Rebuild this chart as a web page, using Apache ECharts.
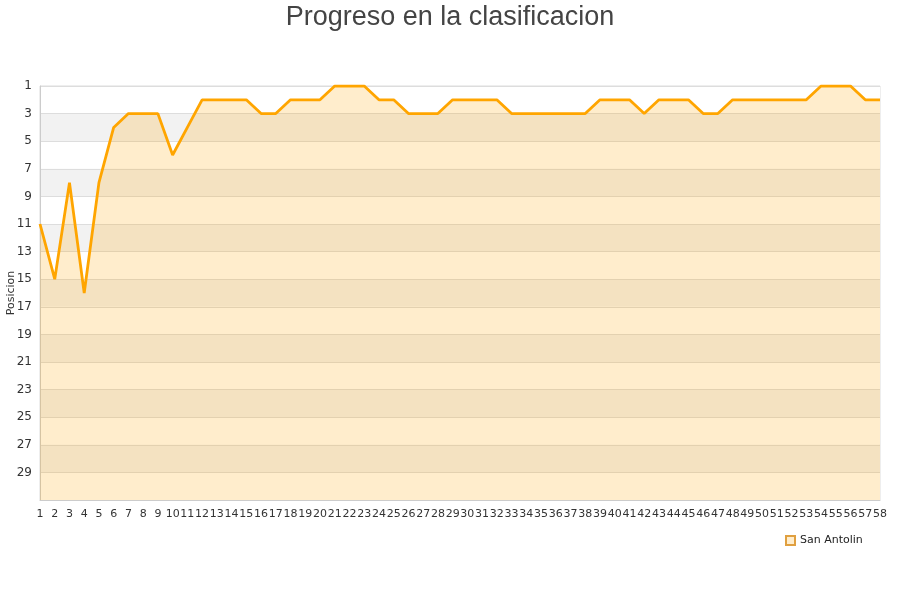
<!DOCTYPE html>
<html>
<head>
<meta charset="utf-8">
<script src="https://cdn.jsdelivr.net/npm/echarts@6/dist/echarts.min.js"></script>
<style>html,body{margin:0;padding:0;background:#fff}#c{width:900px;height:600px}</style>
</head>
<body>
<div id="c"></div>
<script>
var titleText = 'Progreso en la clasificacion';
var seriesName = 'San Antolin';
var yName = 'Posicion';
var jornadas = [];
for (var i = 1; i <= 58; i++) jornadas.push(String(i));
var posiciones = [11,15,8,16,8,4,3,3,3,6,4,2,2,2,2,3,3,2,2,2,1,1,1,2,2,3,3,3,2,2,2,2,3,3,3,3,3,3,2,2,2,3,2,2,2,3,3,2,2,2,2,2,2,1,1,1,2,2];

var chart = echarts.init(document.getElementById('c'), null, {renderer: 'canvas'});
chart.setOption({
  animation: false,
  backgroundColor: '#ffffff',
  title: {
    text: titleText, left: 'center', top: -1,
    textStyle: {fontFamily: 'Liberation Sans', fontSize: 27, fontWeight: 'normal', color: '#444444'}
  },
  grid: {left: 40, right: 20, top: 86, bottom: 100, outerBoundsMode: 'none', containLabel: false,
    show: true, borderColor: '#dddddd', borderWidth: 1, backgroundColor: 'transparent'},
  legend: {
    data: [{name: seriesName, icon: 'rect'}],
    left: 780, top: 530,
    itemWidth: 9, itemHeight: 9, itemGap: 6,
    textStyle: {fontFamily: 'DejaVu Sans', fontSize: 11, color: '#222'}
  },
  xAxis: {
    type: 'category', data: jornadas, boundaryGap: false,
    axisLine: {lineStyle: {color: '#cccccc'}},
    axisTick: {show: false},
    axisLabel: {interval: 0, fontFamily: 'DejaVu Sans', fontSize: 11, color: '#333', margin: 9},
    splitLine: {show: false}
  },
  yAxis: {
    type: 'value', inverse: true, min: 1, max: 31, interval: 2,
    name: yName, nameLocation: 'middle', nameGap: 23, nameMoveOverlap: false,
    nameTextStyle: {fontFamily: 'DejaVu Sans', fontSize: 11, color: '#333'},
    axisLine: {show: true, lineStyle: {color: '#cccccc'}},
    axisTick: {show: false},
    axisLabel: {showMaxLabel: false, fontFamily: 'DejaVu Sans', fontSize: 12, color: '#333', margin: 8},
    splitLine: {show: true, lineStyle: {color: '#dddddd', width: 1}},
    splitArea: {show: true, areaStyle: {color: ['#ffffff', '#f2f2f2']}}
  },
  series: [{
    name: seriesName, type: 'line', data: posiciones,
    symbol: 'none', showSymbol: false,
    lineStyle: {color: '#FFA500', width: 2.8},
    itemStyle: {color: '#FFEDCC', borderColor: '#E0A040', borderWidth: 1},
    areaStyle: {color: 'rgba(255,165,0,0.2)', opacity: 1, origin: 'end'}
  }]
});
</script>
</body>
</html>
